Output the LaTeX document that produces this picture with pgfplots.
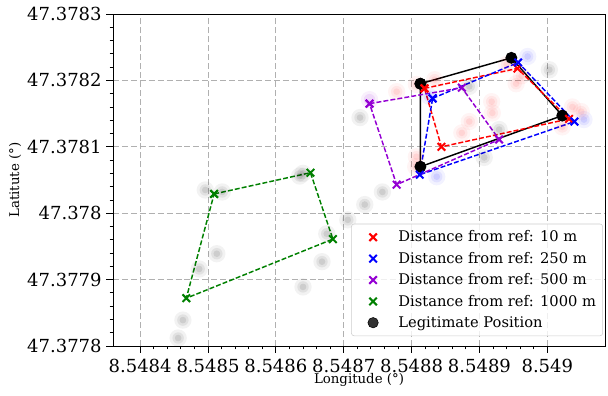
\documentclass[border=0pt]{standalone}
\usepackage{fontspec}
\setmainfont{DejaVu Serif}
\usepackage{pgfplots}
\usepackage{pgfplotstable}
\pgfplotsset{compat=1.18}
\definecolor{mpred}{HTML}{FF0000}
\definecolor{mpblue}{HTML}{0000FF}
\definecolor{mppurple}{HTML}{9400D3}
\definecolor{mpgreen}{HTML}{008000}
\definecolor{gridgray}{HTML}{B0B0B0}
\definecolor{legedge}{HTML}{CCCCCC}

\makeatletter
\newcommand\hpoffset[3]{% value, offset, factor -> \pgfmathresult
  \pgfkeys{/pgf/fpu=true}%
  \pgfmathfloatparsenumber{#1}%
  \pgfmathfloattosci{\pgfmathresult}%
  \let\hp@tmp\pgfmathresult
  \pgfkeys{/pgf/fpu=false}%
  \edef\pgfmathresult{\fpeval{(\hp@tmp-#2)*#3}}%
}
\makeatother

% faint background samples
\pgfplotstableread{
x y
8.548635 47.378056
8.548640 47.378060
8.548496 47.378035
8.548521 47.378032
8.548487 47.377916
8.548513 47.377939
8.548640 47.377889
8.548706 47.377990
8.548675 47.377969
8.548668 47.377927
8.548724 47.378144
8.548757 47.378032
8.548731 47.378013
8.549003 47.378216
8.548929 47.378126
8.548907 47.378084
8.548885 47.378191
8.548463 47.377839
8.548456 47.377812
}\graypts
\pgfplotstableread{
x y
8.548807 47.378194
8.548778 47.378183
8.548834 47.378201
8.548918 47.378168
8.548919 47.378151
8.548885 47.378138
8.548874 47.378121
8.548940 47.378224
8.548962 47.378207
8.548954 47.378195
8.549037 47.378160
8.549022 47.378130
8.549050 47.378153
8.548807 47.378085
8.548806 47.378070
}\redpts
\pgfplotstableread{
x y
8.548971 47.378236
8.549054 47.378141
8.548837 47.378055
8.548826 47.378176
}\bluepts
\pgfplotstableread{
x y
8.548738 47.378171
}\purplepts

\pgfplotsset{
  blob/.style n args={3}{forget plot, only marks, mark=*, mark size=#2, color=#1,
    mark options={fill=#1, draw opacity=0, fill opacity=#3}},
  legmark/.style={legend image code/.code={%
      \path[draw=none,fill=none] (-13.25pt,-0.5pt) rectangle (17pt,0.5pt);
      \draw[##1, /tikz/only marks] plot coordinates {(0pt,0pt)};}},
}

\begin{document}
\begin{tikzpicture}
\begin{axis}[
  scale only axis, width=369pt, height=249pt,
  x coord trafo/.code={\hpoffset{#1}{8.5484}{10000}},
  y coord trafo/.code={\hpoffset{#1}{47.3778}{10000}},
  xmin=8.54836, xmax=8.549085, ymin=47.3778, ymax=47.3783,
  xtick={8.5484,8.5485,8.5486,8.5487,8.5488,8.5489,8.549},
  xticklabels={8.5484,8.5485,8.5486,8.5487,8.5488,8.5489,8.549},
  ytick={47.3778,47.3779,47.378,47.3781,47.3782,47.3783},
  yticklabels={47.3778,47.3779,47.378,47.3781,47.3782,47.3783},
  minor x tick num=4, minor y tick num=4,
  tick align=outside, xtick pos=bottom, ytick pos=left,
  major tick length=5pt, minor tick length=2.6pt,
  every tick/.style={black, line width=0.6pt},
  axis line style={line width=0.6pt},
  grid=major,
  major grid style={gridgray, line width=0.6pt, dash pattern=on 4.5pt off 2.2pt},
  tick label style={font=\fontsize{13.5}{16}\selectfont},
  xticklabel style={yshift=-1.5pt},
  xlabel={Longitude (°)}, ylabel={Latitute (°)},
  label style={font=\fontsize{11}{13}\selectfont},
  every axis x label/.style={at={(axis description cs:0.5,0)}, yshift=-25.5pt, anchor=center},
  every axis y label/.style={at={(axis description cs:0,0.5)}, xshift=-73.5pt, rotate=90, anchor=center},
  legend style={at={(0.9959,0.030)}, anchor=south east, draw=legedge, rounded corners=2pt,
    fill=white, fill opacity=0.8, text opacity=1, font=\fontsize{11}{13}\selectfont,
    row sep=2.2pt, inner xsep=3pt, inner ysep=3pt},
  legend cell align=left,
]
% blurred samples
\addplot[blob={black}{6.5pt}{0.05}] table[x=x,y=y] {\graypts};
\addplot[blob={black}{4.3pt}{0.07}] table[x=x,y=y] {\graypts};
\addplot[blob={black}{2.5pt}{0.09}] table[x=x,y=y] {\graypts};
\addplot[blob={mpred}{6.5pt}{0.045}] table[x=x,y=y] {\redpts};
\addplot[blob={mpred}{4.3pt}{0.06}] table[x=x,y=y] {\redpts};
\addplot[blob={mpred}{2.5pt}{0.08}] table[x=x,y=y] {\redpts};
\addplot[blob={mpblue}{6.5pt}{0.05}] table[x=x,y=y] {\bluepts};
\addplot[blob={mpblue}{4.3pt}{0.07}] table[x=x,y=y] {\bluepts};
\addplot[blob={mpblue}{2.5pt}{0.09}] table[x=x,y=y] {\bluepts};
\addplot[blob={mppurple}{6.5pt}{0.06}] table[x=x,y=y] {\purplepts};
\addplot[blob={mppurple}{4.3pt}{0.09}] table[x=x,y=y] {\purplepts};

% legend entries
\addlegendimage{only marks, mark=x, mark size=4pt, mpred, line width=1.5pt, legmark}
\addlegendentry{Distance from ref: 10 m}
\addlegendimage{only marks, mark=x, mark size=4pt, mpblue, line width=1.5pt, legmark}
\addlegendentry{Distance from ref: 250 m}
\addlegendimage{only marks, mark=x, mark size=4pt, mppurple, line width=1.5pt, legmark}
\addlegendentry{Distance from ref: 500 m}
\addlegendimage{only marks, mark=x, mark size=4pt, mpgreen, line width=1.5pt, legmark}
\addlegendentry{Distance from ref: 1000 m}
\addlegendimage{only marks, mark=*, mark size=3.9pt, black, legmark}
\addlegendentry{Legitimate Position}

% legitimate position
\addplot[forget plot, black, line width=1.1pt, mark=*, mark size=3.9pt] coordinates {
(8.548813,47.378195) (8.548947,47.378234) (8.549022,47.378147) (8.548813,47.378070) (8.548813,47.378195)};
% 10 m
\addplot[forget plot, mpred, line width=1.1pt, dash pattern=on 3.7pt off 1.6pt, mark=x, mark size=4pt, mark options={solid, line width=1.5pt}] coordinates {
(8.548819,47.378188) (8.548956,47.378218) (8.549032,47.378142) (8.548844,47.378100) (8.548819,47.378188)};
% 250 m
\addplot[forget plot, mpblue, line width=1.1pt, dash pattern=on 3.7pt off 1.6pt, mark=x, mark size=4pt, mark options={solid, line width=1.5pt}] coordinates {
(8.548831,47.378173) (8.548957,47.378227) (8.549040,47.378138) (8.548812,47.378058) (8.548831,47.378173)};
% 500 m
\addplot[forget plot, mppurple, line width=1.1pt, dash pattern=on 3.7pt off 1.6pt, mark=x, mark size=4pt, mark options={solid, line width=1.5pt}] coordinates {
(8.548738,47.378165) (8.548874,47.378189) (8.548929,47.378111) (8.548778,47.378043) (8.548738,47.378165)};
% 1000 m
\addplot[forget plot, mpgreen, line width=1.1pt, dash pattern=on 3.7pt off 1.6pt, mark=x, mark size=4pt, mark options={solid, line width=1.5pt}] coordinates {
(8.548509,47.378029) (8.548651,47.378061) (8.548684,47.377961) (8.548468,47.377872) (8.548509,47.378029)};
\end{axis}
\pgfresetboundingbox
\path[use as bounding box] (-84.75pt,-37.5pt) rectangle (371.25pt,259.5pt);
\end{tikzpicture}
\end{document}
